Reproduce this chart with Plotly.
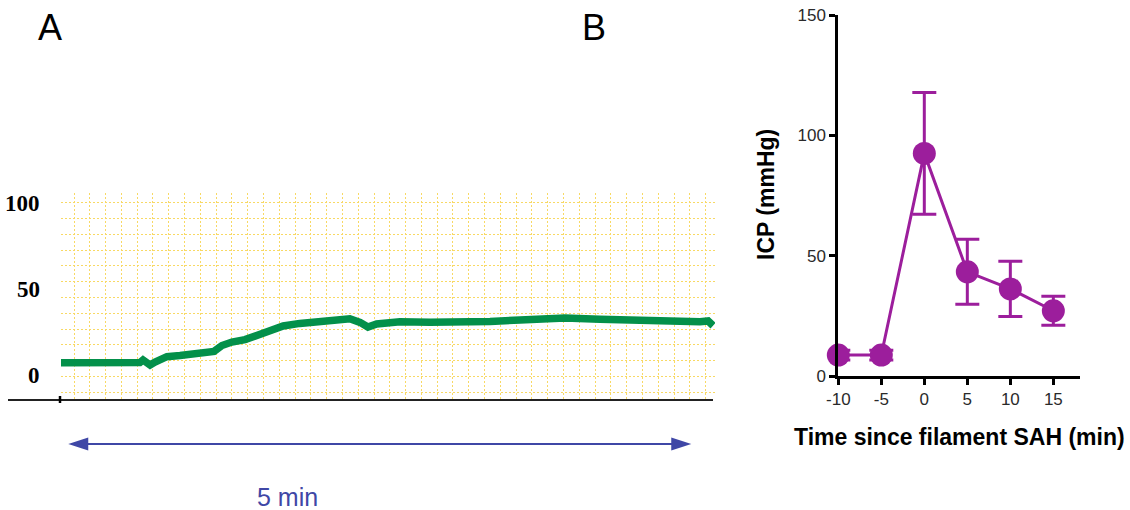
import plotly.graph_objects as go

# ---------------- Panel A: continuous ICP recording ----------------
trace_t = [0, 9.1, 18.8, 28.4, 38.0, 39.5, 41.4, 42.9, 45.3, 48.6, 51.0, 57.3, 64.5,
           70.8, 73.7, 77.5, 82.3, 88.6, 94.9, 99.2, 107.0, 115.0, 124.7, 131.0,
           139.1, 144.0, 147.8, 152.0, 163.2, 177.7, 192.1, 206.6, 221.0, 233.1,
           242.7, 259.5, 271.6, 283.6, 298.1, 307.7, 311.6, 314.0]
trace_icp = [7.4, 7.5, 7.2, 7.5, 7.5, 9.0, 7.8, 6.1, 7.8, 9.4, 10.9, 11.6, 12.4,
             13.0, 14.0, 17.4, 19.4, 20.8, 23.5, 25.4, 28.7, 30.2, 31.2, 32.6,
             32.9, 30.8, 28.1, 29.9, 31.2, 30.8, 30.8, 31.3, 32.2, 33.0,
             33.3, 32.6, 32.0, 32.3, 31.6, 31.2, 31.6, 28.9]
a_tick_vals = [0, 50, 100]
a_tick_text = ["0", "50", "100"]
scale_bar_s = 300          # length of the time scale bar (5 min)
scale_bar_start = 3.5
scale_bar_label = "5 min"

# ---------------- Panel B: mean ICP around filament SAH ----------------
b_time = [-10, -5, 0, 5, 10, 15]
b_icp = [8.7, 8.7, 92.5, 43.3, 36.2, 27.1]
b_err = [2, 2, 25.3, 13.5, 11.5, 6.0]
b_xticks = [-10, -5, 0, 5, 10, 15]
b_xtick_text = ["-10", "-5", "0", "5", "10", "15"]
b_yticks = [0, 50, 100, 150]

W, H = 1130, 510


def px(x):
    return x / W


def py(y):
    return 1 - y / H


GREEN = "#03904a"
PURPLE = "#9c1e9c"
BLUE = "#3f47a6"
GRID = "#f8d964"
SANS = "Liberation Sans, Arial, sans-serif"
SERIF = "Liberation Serif, Times New Roman, serif"

fig = go.Figure()

fig.add_trace(go.Scatter(
    x=trace_t, y=trace_icp, mode="lines",
    line=dict(color=GREEN, width=7.5), xaxis="x", yaxis="y",
    showlegend=False, hoverinfo="skip"))

fig.add_trace(go.Scatter(
    x=b_time, y=b_icp, mode="lines+markers",
    line=dict(color=PURPLE, width=3),
    marker=dict(color=PURPLE, size=23),
    error_y=dict(type="data", array=b_err, color=PURPLE, thickness=3, width=12),
    xaxis="x3", yaxis="y3", cliponaxis=False, showlegend=False))

# Panel A scale: seconds and mmHg, chart-paper grid
sec_per_px = 1 / 2.0767
x_range_a = [0, 654 * sec_per_px]
mm_per_px = 1 / 1.725
y_range_a = [(375.5 - 400) * mm_per_px, (375.5 - 193) * mm_per_px]

fig.update_layout(
    width=W, height=H,
    margin=dict(l=0, r=0, t=0, b=0, autoexpand=False),
    paper_bgcolor="white", plot_bgcolor="rgba(0,0,0,0)",
    xaxis=dict(domain=[px(61), px(715)], range=x_range_a, showgrid=True,
               gridcolor=GRID, gridwidth=1.4, griddash="2px,2px",
               tick0=13 * sec_per_px, dtick=15.79 * sec_per_px, automargin=False,
               showticklabels=False, zeroline=False, showline=False, ticks=""),
    yaxis=dict(domain=[py(400), py(193)], range=y_range_a, showgrid=True,
               gridcolor=GRID, gridwidth=1.4, griddash="2px,2px",
               tick0=(375.5 - 202.7) * mm_per_px, dtick=15.8 * mm_per_px,
               automargin=False,
               showticklabels=False, zeroline=False, showline=False, ticks=""),
    xaxis3=dict(domain=[px(838.3), px(1080)], anchor="y3", range=[-10, 18.1],
                tickvals=b_xticks, ticktext=b_xtick_text, showgrid=False,
                zeroline=False, automargin=False,
                showline=True, linecolor="black", linewidth=3,
                ticks="outside", ticklen=6, tickwidth=3, tickcolor="black",
                tickfont=dict(family=SANS, size=17, color="#2a2a2a")),
    yaxis3=dict(domain=[py(376), py(15)], anchor="x3", range=[0, 150],
                tickvals=b_yticks, showgrid=False, zeroline=False, automargin=False,
                showline=True, linecolor="black", linewidth=3,
                ticks="outside", ticklen=6, tickwidth=3, tickcolor="black",
                ticklabelstandoff=0,
                tickfont=dict(family=SANS, size=17, color="#2a2a2a")),
)

# mmHg labels of the recording, placed at their values on the y axis
for v, t in zip(a_tick_vals, a_tick_text):
    fig.add_annotation(xref="paper", yref="y", x=px(42), y=v, xanchor="right",
                       yanchor="middle", text=f"<b>{t}</b>", showarrow=False,
                       font=dict(family=SERIF, size=23, color="black"))

# baseline and start tick of the recording
fig.add_shape(type="line", xref="paper", yref="paper",
              x0=px(8), x1=px(713), y0=py(400), y1=py(400),
              line=dict(color="#222222", width=2))
fig.add_shape(type="line", xref="paper", yref="paper",
              x0=px(60), x1=px(60), y0=py(396), y1=py(403),
              line=dict(color="black", width=2.5))

# 5-minute scale bar with filled heads
bar_y = py(444)
head_len = 20 * sec_per_px
head_half = 6.5 / H
xa, xb = scale_bar_start, scale_bar_start + scale_bar_s
fig.add_shape(type="line", xref="x", yref="paper",
              x0=xa + head_len * 0.5, x1=xb - head_len * 0.5, y0=bar_y, y1=bar_y,
              line=dict(color=BLUE, width=2))
fig.add_shape(type="path", xref="x", yref="paper", fillcolor=BLUE, line=dict(width=0),
              path=f"M {xa},{bar_y} L {xa + head_len},{bar_y + head_half} "
                   f"L {xa + head_len},{bar_y - head_half} Z")
fig.add_shape(type="path", xref="x", yref="paper", fillcolor=BLUE, line=dict(width=0),
              path=f"M {xb},{bar_y} L {xb - head_len},{bar_y + head_half} "
                   f"L {xb - head_len},{bar_y - head_half} Z")


def label(text, x, y, size, color="black", angle=0):
    fig.add_annotation(xref="paper", yref="paper", x=px(x), y=py(y),
                       xanchor="center", yanchor="middle", text=text,
                       showarrow=False, textangle=angle,
                       font=dict(family=SANS, size=size, color=color))


label(scale_bar_label, 287, 497, 25, BLUE)

# panel letters
label("A", 50, 27, 36)
label("B", 593.5, 27, 36)

# axis titles for panel B
label("<b>Time since filament SAH (min)</b>", 959, 437, 23)
label("<b>ICP (mmHg)</b>", 766, 195, 23, angle=-90)

fig.write_html("out.html")
